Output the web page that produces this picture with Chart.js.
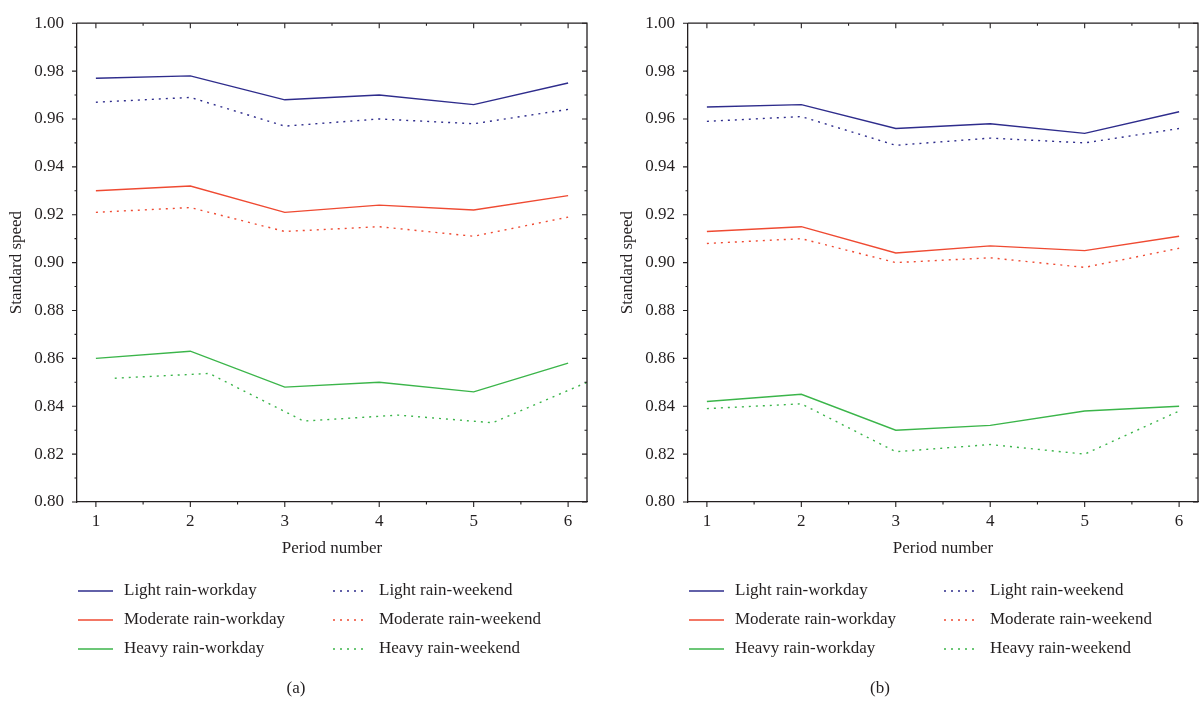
<!DOCTYPE html>
<html>
<head>
<meta charset="utf-8">
<script src="https://cdn.jsdelivr.net/npm/chart.js@4.4.0/dist/chart.umd.min.js"></script>
<style>
  body { margin: 0; background: #fff; width: 1202px; height: 701px; overflow: hidden; position: relative; }
  .panel { position: absolute; top: 0; width: 590px; height: 701px; }
</style>
</head>
<body>
<div class="panel" style="left:0"><canvas id="chartA" width="590" height="701"></canvas></div>
<div class="panel" style="left:611px"><canvas id="chartB" width="590" height="701"></canvas></div>

<script>
// Data
// ------------------------------

var periods = [1, 2, 3, 4, 5, 6];
// in panel (a) the heavy-rain weekend curve is drawn offset to the right
var periodsShifted = [1.2, 2.2, 3.2, 4.2, 5.2, 6.2];

var seriesNames = [
    'Light rain-workday', 'Light rain-weekend',
    'Moderate rain-workday', 'Moderate rain-weekend',
    'Heavy rain-workday', 'Heavy rain-weekend'
];

// panel (a)
var lightWorkdayA    = [0.977, 0.978, 0.968, 0.970, 0.966, 0.975];
var lightWeekendA    = [0.967, 0.969, 0.957, 0.960, 0.958, 0.964];
var moderateWorkdayA = [0.930, 0.932, 0.921, 0.924, 0.922, 0.928];
var moderateWeekendA = [0.921, 0.923, 0.913, 0.915, 0.911, 0.919];
var heavyWorkdayA    = [0.860, 0.863, 0.848, 0.850, 0.846, 0.858];
var heavyWeekendA    = [0.8517, 0.8537, 0.8338, 0.8363, 0.8331, 0.850];

// panel (b)
var lightWorkdayB    = [0.965, 0.966, 0.956, 0.958, 0.954, 0.963];
var lightWeekendB    = [0.959, 0.961, 0.949, 0.952, 0.950, 0.956];
var moderateWorkdayB = [0.913, 0.915, 0.904, 0.907, 0.905, 0.911];
var moderateWeekendB = [0.908, 0.910, 0.900, 0.902, 0.898, 0.906];
var heavyWorkdayB    = [0.842, 0.845, 0.830, 0.832, 0.838, 0.840];
var heavyWeekendB    = [0.839, 0.841, 0.821, 0.824, 0.820, 0.838];

var xTicks = [1, 1.5, 2, 2.5, 3, 3.5, 4, 4.5, 5, 5.5, 6];
var yTicks = [0.80, 0.81, 0.82, 0.83, 0.84, 0.85, 0.86, 0.87, 0.88, 0.89, 0.90,
              0.91, 0.92, 0.93, 0.94, 0.95, 0.96, 0.97, 0.98, 0.99, 1.00];

var colors = ['#2e2c8c', '#2e2c8c', '#ef4a32', '#ef4a32', '#3bb54a', '#3bb54a'];
var fontFamily = "'Liberation Serif', 'DejaVu Serif', serif";
var fontSize = 17;
var inkColor = '#231f20';

function points(xs, ys) {
    return ys.map(function (v, i) { return {x: xs[i], y: v}; });
}

// Frame: top / right sides and all tick marks (ticks inward on top/right)
var framePlugin = {
    id: 'frame',
    afterDraw: function (chart) {
        var ctx = chart.ctx, a = chart.chartArea;
        var xs = chart.scales.x, ys = chart.scales.y;
        ctx.save();
        ctx.strokeStyle = inkColor;
        ctx.lineWidth = 1.3;
        ctx.beginPath();
        ctx.moveTo(a.left, a.top); ctx.lineTo(a.right, a.top); ctx.lineTo(a.right, a.bottom);
        ctx.stroke();
        ctx.lineWidth = 1.1;
        ctx.beginPath();
        xTicks.forEach(function (v) {
            var px = xs.getPixelForValue(v);
            var len = Number.isInteger(v) ? 5 : 2.5;
            ctx.moveTo(px, a.bottom); ctx.lineTo(px, a.bottom + len);
            ctx.moveTo(px, a.top); ctx.lineTo(px, a.top + len);
        });
        yTicks.forEach(function (v, i) {
            var py = ys.getPixelForValue(v);
            var len = i % 2 === 0 ? 5 : 2.5;
            ctx.moveTo(a.left - len, py); ctx.lineTo(a.left, py);
            ctx.moveTo(a.right - len, py); ctx.lineTo(a.right, py);
        });
        ctx.stroke();
        ctx.restore();
    }
};

// Two-column legend and panel caption under the plot
var legendPlugin = {
    id: 'panelLegend',
    afterDraw: function (chart, args, opts) {
        var ctx = chart.ctx, a = chart.chartArea;
        var rowY = [591, 620, 649];
        var colX = [1, 256];
        ctx.save();
        ctx.font = fontSize + 'px ' + fontFamily;
        ctx.textBaseline = 'middle';
        ctx.textAlign = 'left';
        chart.data.datasets.forEach(function (ds, i) {
            var x = a.left + colX[i % 2];
            var y = rowY[Math.floor(i / 2)];
            ctx.strokeStyle = ds.borderColor;
            ctx.lineWidth = ds.borderWidth;
            ctx.setLineDash(ds.borderDash || []);
            ctx.beginPath();
            ctx.moveTo(x, y); ctx.lineTo(x + 35, y);
            ctx.stroke();
            ctx.fillStyle = inkColor;
            ctx.fillText(ds.label, x + 46, y);
        });
        ctx.setLineDash([]);
        ctx.textAlign = 'center';
        ctx.fillText(opts.caption, opts.captionX, 689);
        ctx.restore();
    }
};

function makeChart(id, rows, shiftedIdx, caption, captionX) {
    var datasets = rows.map(function (ys, i) {
        var xs = shiftedIdx.indexOf(i) >= 0 ? periodsShifted : periods;
        return {
            label: seriesNames[i],
            data: points(xs, ys),
            borderColor: colors[i],
            borderWidth: 1.4,
            borderDash: i % 2 === 1 ? [2, 5] : [],
            pointRadius: 0,
            tension: 0,
            fill: false
        };
    });

    return new Chart(document.getElementById(id), {
        type: 'line',
        data: {datasets: datasets},
        plugins: [framePlugin, legendPlugin],
        options: {
            responsive: false,
            animation: false,
            devicePixelRatio: 1,
            layout: {padding: {left: 0, top: 16, right: 3, bottom: 131}},
            plugins: {
                legend: {display: false},
                tooltip: {enabled: false},
                panelLegend: {caption: caption, captionX: captionX}
            },
            scales: {
                x: {
                    type: 'linear',
                    min: 0.8,
                    max: 6.2,
                    afterBuildTicks: function (s) {
                        s.ticks = xTicks.map(function (v) { return {value: v}; });
                    },
                    afterFit: function (s) { s.height = 68; },
                    grid: {display: false, drawTicks: false},
                    border: {display: true, color: inkColor, width: 1.3},
                    ticks: {
                        autoSkip: false,
                        maxRotation: 0,
                        padding: 9,
                        color: inkColor,
                        font: {family: fontFamily, size: fontSize},
                        callback: function (v) { return Number.isInteger(v) ? String(v) : ''; }
                    },
                    title: {
                        display: true,
                        text: 'Period number',
                        color: inkColor,
                        font: {family: fontFamily, size: fontSize},
                        padding: {top: 0, bottom: 11}
                    }
                },
                y: {
                    min: 0.8,
                    max: 1.0,
                    afterBuildTicks: function (s) {
                        s.ticks = yTicks.map(function (v) { return {value: v}; });
                    },
                    afterFit: function (s) { s.width = 77; },
                    grid: {display: false, drawTicks: false},
                    border: {display: true, color: inkColor, width: 1.3},
                    ticks: {
                        autoSkip: false,
                        padding: 13,
                        color: inkColor,
                        font: {family: fontFamily, size: fontSize},
                        callback: function (v, i) { return i % 2 === 0 ? v.toFixed(2) : ''; }
                    },
                    title: {
                        display: true,
                        text: 'Standard speed',
                        color: inkColor,
                        font: {family: fontFamily, size: fontSize},
                        padding: {top: 6, bottom: 0}
                    }
                }
            }
        }
    });
}

makeChart('chartA',
    [lightWorkdayA, lightWeekendA, moderateWorkdayA, moderateWeekendA, heavyWorkdayA, heavyWeekendA],
    [5], '(a)', 296);

makeChart('chartB',
    [lightWorkdayB, lightWeekendB, moderateWorkdayB, moderateWeekendB, heavyWorkdayB, heavyWeekendB],
    [], '(b)', 269);
</script>
</body>
</html>
